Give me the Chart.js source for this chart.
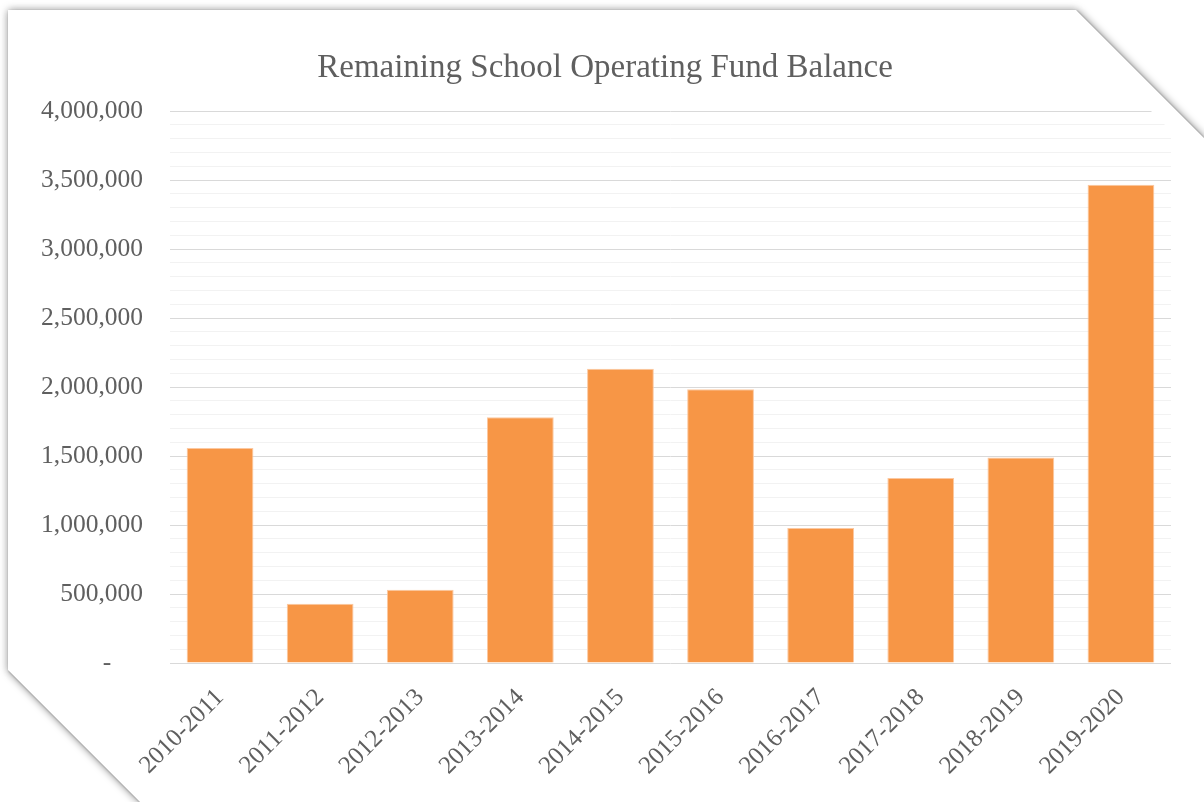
<!DOCTYPE html>
<html>
<head>
<meta charset="utf-8">
<script src="https://cdn.jsdelivr.net/npm/chart.js@4"></script>
<style>
  html, body { margin: 0; padding: 0; background: #fff; }
  #frame {
    position: absolute; left: 0; top: 0; width: 1204px; height: 802px;
    filter: drop-shadow(0 0 4px rgba(0,0,0,0.35)) drop-shadow(1px 1px 1px rgba(0,0,0,0.45));
  }
  #sheet {
    position: absolute; left: 0; top: 0; width: 1204px; height: 802px; background: #fff;
    clip-path: polygon(8px 10px, 1076px 10px, 1214px 148px, 1214px 812px, 150px 812px, 8px 670px);
  }
  #wrap { position: absolute; left: 0; top: 0; width: 1204px; height: 802px;
    clip-path: polygon(0 0, 1040px 0, 1204px 164px, 1204px 802px, 0 802px); }
</style>
</head>
<body>
<div id="frame"><div id="sheet"></div></div>
<div id="wrap"><canvas id="myChart" width="1204" height="802"></canvas></div>
<script>
const years = ['2010-2011', '2011-2012', '2012-2013', '2013-2014', '2014-2015',
  '2015-2016', '2016-2017', '2017-2018', '2018-2019', '2019-2020'];
const balances = [1558000, 430000, 531000, 1780000, 2133000, 1983000, 978000, 1341000, 1490000, 3466000];
const yTickLabels = ['-', '500,000', '1,000,000', '1,500,000', '2,000,000',
  '2,500,000', '3,000,000', '3,500,000', '4,000,000'];
const chartTitle = 'Remaining School Operating Fund Balance';

const textGray = '#5f5f5f';
const serif = "'Liberation Serif', serif";

// title sits a bit right of the canvas centre, like the Excel original
const titlePlugin = {
  id: 'offsetTitle',
  afterDraw(chart) {
    const c = chart.ctx;
    c.save();
    c.font = "33px 'Liberation Serif', serif";
    c.fillStyle = textGray;
    c.textAlign = 'center';
    c.textBaseline = 'middle';
    c.fillText(chartTitle, 605, 68);
    c.restore();
  },
};

const ctx = document.getElementById('myChart').getContext('2d');
const myChart = new Chart(ctx, {
  type: 'bar',
  data: {
    labels: years,
    datasets: [
      {
        label: chartTitle,
        data: balances,
        backgroundColor: 'rgba(247, 150, 70, 1)',
        borderColor: 'rgba(252, 200, 160, 1)',
        borderWidth: 1,
        categoryPercentage: 1,
        barPercentage: 0.667,
      },
    ],
  },
  plugins: [titlePlugin],
  options: {
    responsive: false,
    animation: false,
    layout: { padding: { left: 0, right: 33, top: 111, bottom: 0 } },
    plugins: {
      legend: { display: false },
      tooltip: { enabled: false },
      title: { display: false },
    },
    scales: {
      x: {
        grid: { display: false },
        border: { display: false },
        ticks: {
          color: textGray,
          font: { family: serif, size: 25 },
          minRotation: 45,
          maxRotation: 45,
          padding: 12,
        },
        afterFit: (scale) => { scale.height = 139; },
      },
      y: {
        min: 0,
        max: 4000000,
        border: { display: false },
        grid: {
          drawTicks: false,
          color: (c) => (c.tick.value % 500000 === 0 ? '#d9d9d9' : '#f2f2f2'),
          lineWidth: 1,
        },
        ticks: {
          stepSize: 100000,
          autoSkip: false,
          color: textGray,
          font: { family: serif, size: 25.5 },
          padding: 27,
          callback: (v) => {
            if (v % 500000 !== 0) return '';
            const label = yTickLabels[v / 500000];
            return v === 0 ? label + '     ' : label;
          },
        },
        afterFit: (scale) => { scale.width = 170; },
      },
    },
  },
});
</script>
</body>
</html>
